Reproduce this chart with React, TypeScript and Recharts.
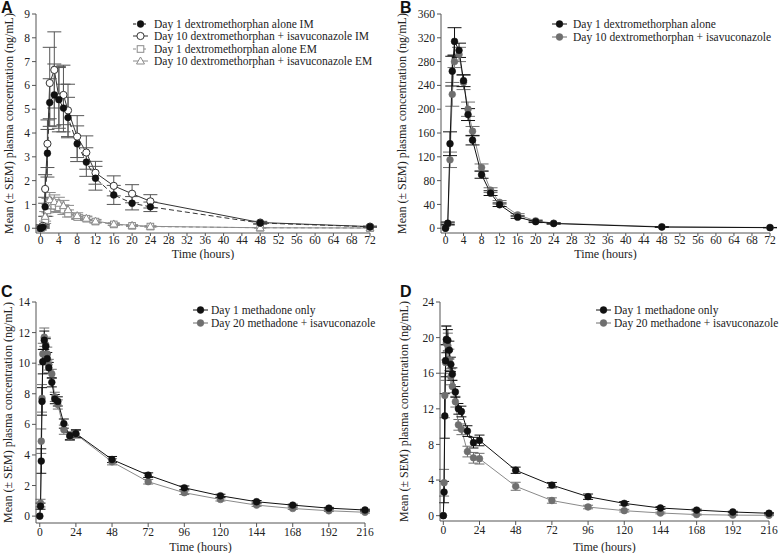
import React from 'react';
import { LineChart, Line, XAxis, YAxis, ErrorBar } from 'recharts';

// sampling times (hours)
const timeDex = [0, 0.5, 1, 1.5, 2, 3, 4, 5, 6, 8, 10, 12, 16, 20, 24, 48, 72];
const timeMeth = [0, 0.5, 1, 1.5, 2, 3, 4, 5, 6, 8, 10, 12, 16, 20, 24, 48, 72, 96, 120, 144, 168, 192, 216];

// panel A: dextromethorphan IM / EM (ng/mL)
const dexImDay1 = [0, 0.05, 0.9, 3.15, 5.28, 5.6, 5.4, 5.05, 4.65, 3.55, 2.78, 2.1, 1.4, 1.05, 0.9, 0.22, 0.06];
const dexImDay10 = [0, 0.1, 1.65, 3.55, 6.1, 6.65, 5.5, 5.6, 4.95, 3.85, 3.18, 2.33, 1.78, 1.45, 1.13, 0.24, 0.07];
const dexEmDay1 = [0, 0.05, 0.35, 0.75, 0.95, 0.95, 0.88, 0.78, 0.62, 0.47, 0.4, 0.28, 0.16, 0.1, 0.07, 0.02, 0.01];
const dexEmDay10 = [0, 0.1, 0.5, 0.95, 1.2, 1.12, 1.05, 0.95, 0.78, 0.53, 0.42, 0.3, 0.18, 0.12, 0.08, 0.02, 0.01];
const semImDay1 = [0, 0.05, 0.4, 1.0, 1.0, 1.3, 1.35, 1.0, 0.85, 0.75, 0.6, 0.5, 0.4, 0.28, 0.2, 0.05, 0.02];
const semImDay10 = [0, 0.05, 0.6, 1.0, 1.5, 1.6, 1.3, 1.25, 1.1, 0.88, 0.7, 0.48, 0.42, 0.38, 0.28, 0.05, 0.02];
const semEmDay1 = [0, 0.03, 0.15, 0.25, 0.25, 0.25, 0.22, 0.2, 0.15, 0.1, 0.08, 0.06, 0.04, 0.03, 0.02, 0.01, 0];
const semEmDay10 = [0, 0.05, 0.2, 0.3, 0.3, 0.28, 0.25, 0.22, 0.18, 0.12, 0.09, 0.07, 0.05, 0.03, 0.02, 0.01, 0];

// panel B: dextromethorphan
const dexDay1 = [0, 8.5, 142, 264, 314, 299, 248, 191, 148, 90, 59, 39.5, 18.6, 11, 7.9, 2, 1];
const dexDay10 = [0, 7, 115, 225, 280, 292, 245, 200, 163, 102, 64, 43.5, 22.5, 12.5, 8.5, 2.5, 1.2];
const semDexDay1 = [0, 2, 20, 25, 23, 12, 10, 10, 8, 6, 4, 3, 2, 1.5, 1, 0.3, 0.2];
const semDexDay10 = [0, 2, 13, 20, 10, 12, 12, 12, 8, 6, 4, 3, 2, 1.5, 1, 0.3, 0.2];

// panel C: methadone (R-)
const methC1 = [0, 0.65, 3.6, 7.5, 10.1, 11.5, 11.1, 10.3, 9.7, 8.75, 7.65, 7.5, 6.05, 5.25, 5.4, 3.7, 2.68, 1.85, 1.33, 0.94, 0.72, 0.52, 0.4];
const methC20 = [0, 0.85, 4.9, 7.7, 10.6, 11.7, 11.2, 10.6, 9.9, 9.3, 7.8, 7.3, 5.65, 5.2, 5.35, 3.55, 2.25, 1.53, 1.09, 0.72, 0.5, 0.35, 0.25];
const semC1 = [0, 0.2, 0.8, 0.9, 0.8, 0.6, 0.5, 0.4, 0.35, 0.3, 0.3, 0.3, 0.3, 0.25, 0.25, 0.2, 0.15, 0.12, 0.1, 0.08, 0.06, 0.05, 0.05];
const semC20 = [0, 0.25, 0.8, 0.9, 0.7, 0.6, 0.5, 0.45, 0.35, 0.3, 0.3, 0.3, 0.3, 0.25, 0.25, 0.2, 0.15, 0.12, 0.1, 0.08, 0.06, 0.05, 0.05];

// panel D: methadone (S-)
const methD1 = [0, 2.65, 11.2, 17.4, 19.8, 19.7, 18.6, 17.0, 15.9, 13.9, 12.0, 11.7, 9.5, 8.2, 8.45, 5.1, 3.43, 2.13, 1.38, 0.86, 0.63, 0.41, 0.27];
const methD20 = [0, 3.7, 13.5, 17.2, 19.4, 19.1, 17.5, 15.6, 14.5, 12.8, 10.2, 9.7, 7.2, 6.5, 6.4, 3.3, 1.7, 0.97, 0.56, 0.3, 0.12, 0.06, 0.04];
const semD1 = [0, 1.2, 2.5, 1.8, 1.5, 1.2, 1.0, 0.8, 0.7, 0.6, 0.6, 0.6, 0.6, 0.6, 0.6, 0.35, 0.3, 0.3, 0.2, 0.15, 0.1, 0.08, 0.06];
const semD20 = [0, 1.5, 2.5, 2.0, 1.9, 1.4, 1.2, 0.9, 0.7, 0.6, 0.6, 0.6, 0.6, 0.6, 0.6, 0.45, 0.3, 0.2, 0.15, 0.1, 0.06, 0.05, 0.04];

// ticks
const ticksDexX = [0, 4, 8, 12, 16, 20, 24, 28, 32, 36, 40, 44, 48, 52, 56, 60, 64, 68, 72];
const ticksMethX = [0, 24, 48, 72, 96, 120, 144, 168, 192, 216];
const ticksAY = [0, 1, 2, 3, 4, 5, 6, 7, 8, 9];
const ticksBY = [0, 40, 80, 120, 160, 200, 240, 280, 320, 360];
const ticksCY = [0, 2, 4, 6, 8, 10, 12, 14];
const ticksDY = [0, 4, 8, 12, 16, 20, 24];

const yTitle = 'Mean (± SEM) plasma concentration (ng/mL)';
const xTitle = 'Time (hours)';

const dataA = timeDex.map((t, i) => ({
  t,
  im1: dexImDay1[i], im10: dexImDay10[i], em1: dexEmDay1[i], em10: dexEmDay10[i],
  im1Err: semImDay1[i], im10Err: semImDay10[i], em1Err: semEmDay1[i], em10Err: semEmDay10[i],
}));
const dataB = timeDex.map((t, i) => ({ t, d1: dexDay1[i], d10: dexDay10[i], d1Err: semDexDay1[i], d10Err: semDexDay10[i] }));
const dataC = timeMeth.map((t, i) => ({ t, m1: methC1[i], m20: methC20[i], m1Err: semC1[i], m20Err: semC20[i] }));
const dataD = timeMeth.map((t, i) => ({ t, m1: methD1[i], m20: methD20[i], m1Err: semD1[i], m20Err: semD20[i] }));

const SERIF = '"Liberation Serif", "Times New Roman", serif';
const AXIS = '#555';
const BLACK = '#111';
const GREY = '#6f6f6f';
const LIGHT = '#8a8a8a';

type MarkerKind = 'filled' | 'open' | 'square' | 'triangle';

const marker = (kind: MarkerKind, cx: number, cy: number, color: string, key?: any) => {
  if (kind === 'square')
    return <rect key={key} x={cx - 3.3} y={cy - 3.3} width={6.6} height={6.6} fill="#fff" stroke={color} strokeWidth={1} />;
  if (kind === 'triangle')
    return <polygon key={key} points={`${cx},${cy - 4} ${cx - 4},${cy + 3} ${cx + 4},${cy + 3}`} fill="#fff" stroke={color} strokeWidth={1} />;
  if (kind === 'open')
    return <circle key={key} cx={cx} cy={cy} r={3.6} fill="#fff" stroke={color} strokeWidth={1} />;
  return <circle key={key} cx={cx} cy={cy} r={3.4} fill={color} stroke={color} strokeWidth={0.5} />;
};

const dot = (kind: MarkerKind, color: string) => (props: any) => {
  const { cx, cy, index } = props;
  if (cx == null || cy == null) return <g key={index} />;
  return marker(kind, cx, cy, color, index);
};

type LegendRow = { label: string; kind: MarkerKind; color: string; dash?: string };

const Legend = ({ x, y, rows, step, textX }: { x: number; y: number; rows: LegendRow[]; step: number; textX: number }) => (
  <>
    {rows.map((r, i) => (
      <div key={r.label} style={{ position: 'absolute', left: x, top: y + i * step - 7, height: 14, display: 'flex', alignItems: 'center' }}>
        <svg width={textX - x} height={14} style={{ display: 'block' }}>
          <line x1={1} x2={16} y1={7} y2={7} stroke={r.color} strokeWidth={1} strokeDasharray={r.dash} />
          {marker(r.kind, 8.5, 7, r.color)}
        </svg>
        <span style={{ fontFamily: SERIF, fontSize: 11.5, color: '#222', whiteSpace: 'nowrap', lineHeight: '14px' }}>{r.label}</span>
      </div>
    ))}
  </>
);

const Letter = ({ x, y, c }: { x: number; y: number; c: string }) => (
  <div style={{ position: 'absolute', left: x, top: y, fontFamily: '"Liberation Sans", Arial, sans-serif', fontWeight: 700, fontSize: 16, lineHeight: '16px', color: '#111' }}>{c}</div>
);

const tickStyle = { fontFamily: SERIF, fontSize: 11.5, fill: '#222' };

const axisProps = {
  axisLine: { stroke: AXIS },
  tickLine: { stroke: AXIS },
  tick: tickStyle,
  interval: 0 as const,
};

const yLabel = (offset: number) => ({
  value: yTitle,
  angle: -90,
  position: 'insideLeft' as const,
  offset,
  style: { textAnchor: 'middle', fontFamily: SERIF, fontSize: 12, fill: '#222' },
});

const xLabel = (offset: number) => ({
  value: xTitle,
  position: 'insideBottom' as const,
  offset,
  style: { fontFamily: SERIF, fontSize: 12, fill: '#222' },
});

const App = () => {
  return (
    <div style={{ position: 'absolute', left: 0, top: 0, width: 780, height: 553, background: '#fff' }}>
      {/* A */}
      <div style={{ position: 'absolute', left: 0, top: 0 }}>
        <LineChart width={390} height={260} data={dataA} margin={{ top: 14, right: 20, bottom: 0, left: 0 }}>
          <XAxis dataKey="t" type="number" domain={[-1, 72]} ticks={ticksDexX} height={27} tickSize={3} tickMargin={0} {...axisProps} label={xLabel(2)} />
          <YAxis type="number" domain={[-0.2, 9]} ticks={ticksAY} width={36} tickSize={4} tickMargin={2} {...axisProps} label={yLabel(9)} />
          <Line dataKey="em1" stroke={LIGHT} strokeWidth={1} strokeDasharray="4 3" dot={dot('square', LIGHT)} isAnimationActive={false}>
            <ErrorBar dataKey="em1Err" width={6} stroke={LIGHT} strokeWidth={1} isAnimationActive={false} />
          </Line>
          <Line dataKey="em10" stroke={LIGHT} strokeWidth={1} dot={dot('triangle', LIGHT)} isAnimationActive={false}>
            <ErrorBar dataKey="em10Err" width={6} stroke={LIGHT} strokeWidth={1} isAnimationActive={false} />
          </Line>
          <Line dataKey="im10" stroke="#333" strokeWidth={1} dot={dot('open', '#333')} isAnimationActive={false}>
            <ErrorBar dataKey="im10Err" width={7} stroke="#555" strokeWidth={1} isAnimationActive={false} />
          </Line>
          <Line dataKey="im1" stroke="#333" strokeWidth={1} strokeDasharray="5 3" dot={dot('filled', BLACK)} isAnimationActive={false}>
            <ErrorBar dataKey="im1Err" width={7} stroke="#555" strokeWidth={1} isAnimationActive={false} />
          </Line>
        </LineChart>
      </div>
      <Letter x={1} y={0} c="A" />
      <Legend
        x={132}
        y={24}
        step={12.3}
        textX={154}
        rows={[
          { label: 'Day 1 dextromethorphan alone IM', kind: 'filled', color: BLACK, dash: '3 2' },
          { label: 'Day 10 dextromethorphan + isavuconazole IM', kind: 'open', color: '#333' },
          { label: 'Day 1 dextromethorphan alone EM', kind: 'square', color: LIGHT, dash: '3 2' },
          { label: 'Day 10 dextromethorphan + isavuconazole EM', kind: 'triangle', color: LIGHT },
        ]}
      />

      {/* B */}
      <div style={{ position: 'absolute', left: 390, top: 0 }}>
        <LineChart width={390} height={260} data={dataB} margin={{ top: 14, right: 10, bottom: 0, left: 0 }}>
          <XAxis dataKey="t" type="number" domain={[-1, 72]} ticks={ticksDexX} height={27} tickSize={3} tickMargin={0} {...axisProps} label={xLabel(2)} />
          <YAxis type="number" domain={[-8, 360]} ticks={ticksBY} width={51} tickSize={4} tickMargin={2} {...axisProps} label={yLabel(12)} />
          <Line dataKey="d10" stroke={LIGHT} strokeWidth={1} dot={dot('filled', GREY)} isAnimationActive={false}>
            <ErrorBar dataKey="d10Err" width={7} stroke={GREY} strokeWidth={1} isAnimationActive={false} />
          </Line>
          <Line dataKey="d1" stroke={BLACK} strokeWidth={1} dot={dot('filled', BLACK)} isAnimationActive={false}>
            <ErrorBar dataKey="d1Err" width={7} stroke={BLACK} strokeWidth={1} isAnimationActive={false} />
          </Line>
        </LineChart>
      </div>
      <Letter x={400} y={0} c="B" />
      <Legend
        x={551}
        y={23.5}
        step={13.5}
        textX={573}
        rows={[
          { label: 'Day 1 dextromethorphan alone', kind: 'filled', color: BLACK },
          { label: 'Day 10 dextromethorphan + isavuconazole', kind: 'filled', color: GREY },
        ]}
      />

      {/* C */}
      <div style={{ position: 'absolute', left: 0, top: 260 }}>
        <LineChart width={390} height={293} data={dataC} margin={{ top: 42, right: 25, bottom: 0, left: 0 }}>
          <XAxis dataKey="t" type="number" domain={[-2.5, 216]} ticks={ticksMethX} height={30} tickSize={4} tickMargin={1} {...axisProps} label={xLabel(2)} />
          <YAxis type="number" domain={[-0.45, 14]} ticks={ticksCY} width={36} tickSize={4} tickMargin={2} {...axisProps} label={yLabel(8)} />
          <Line dataKey="m20" stroke={LIGHT} strokeWidth={1} dot={dot('filled', GREY)} isAnimationActive={false}>
            <ErrorBar dataKey="m20Err" width={5} stroke={GREY} strokeWidth={1} isAnimationActive={false} />
          </Line>
          <Line dataKey="m1" stroke={BLACK} strokeWidth={1} dot={dot('filled', BLACK)} isAnimationActive={false}>
            <ErrorBar dataKey="m1Err" width={5} stroke={BLACK} strokeWidth={1} isAnimationActive={false} />
          </Line>
        </LineChart>
      </div>
      <Letter x={1} y={284} c="C" />
      <Legend
        x={192}
        y={310}
        step={13.3}
        textX={211}
        rows={[
          { label: 'Day 1 methadone only', kind: 'filled', color: BLACK },
          { label: 'Day 20 methadone + isavuconazole', kind: 'filled', color: GREY },
        ]}
      />

      {/* D */}
      <div style={{ position: 'absolute', left: 390, top: 260 }}>
        <LineChart width={390} height={293} data={dataD} margin={{ top: 42, right: 11, bottom: 0, left: 0 }}>
          <XAxis dataKey="t" type="number" domain={[-2.2, 216]} ticks={ticksMethX} height={32} tickSize={4} tickMargin={1} {...axisProps} label={xLabel(2)} />
          <YAxis type="number" domain={[-0.6, 24]} ticks={ticksDY} width={50} tickSize={4} tickMargin={2} {...axisProps} label={yLabel(14)} />
          <Line dataKey="m20" stroke={LIGHT} strokeWidth={1} dot={dot('filled', GREY)} isAnimationActive={false}>
            <ErrorBar dataKey="m20Err" width={5} stroke={GREY} strokeWidth={1} isAnimationActive={false} />
          </Line>
          <Line dataKey="m1" stroke={BLACK} strokeWidth={1} dot={dot('filled', BLACK)} isAnimationActive={false}>
            <ErrorBar dataKey="m1Err" width={5} stroke={BLACK} strokeWidth={1} isAnimationActive={false} />
          </Line>
        </LineChart>
      </div>
      <Letter x={400} y={284} c="D" />
      <Legend
        x={595}
        y={310}
        step={13.3}
        textX={614}
        rows={[
          { label: 'Day 1 methadone only', kind: 'filled', color: BLACK },
          { label: 'Day 20 methadone + isavuconazole', kind: 'filled', color: GREY },
        ]}
      />
    </div>
  );
};

export default App;
